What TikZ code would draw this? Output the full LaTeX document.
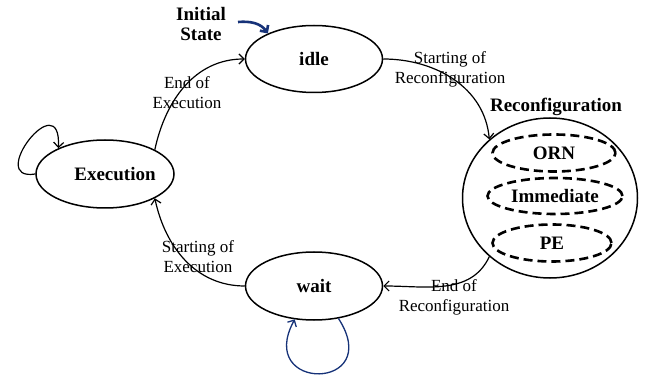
\documentclass[tikz,border=0pt]{standalone}
\usepackage{fontspec}
\setmainfont{Liberation Serif}
\usetikzlibrary{shapes.geometric,arrows.meta}
\definecolor{navy}{RGB}{22,50,120}
\tikzset{
  statebox/.style={draw,ellipse,line width=1.5pt,inner sep=0pt,
    font=\fontsize{19}{22}\selectfont\bfseries},
  modebox/.style={draw,ellipse,line width=2.6pt,dash pattern=on 9pt off 5pt,
    inner sep=0pt,font=\fontsize{19}{22}\selectfont\bfseries},
  edgelabel/.style={align=center,font=\fontsize{17}{20}\selectfont},
  trans/.style={line width=1.2pt,-{Straight Barb[length=5pt,width=10pt]}},
  navytrans/.style={navy,line width=1.3pt,-{Straight Barb[length=5pt,width=10pt]}}
}
\begin{document}
\begin{tikzpicture}[x=1pt,y=1pt]
\useasboundingbox (0,0) rectangle (651,378);
% states
\node (idle) [statebox,minimum width=137pt,minimum height=67pt] at (314,319) {idle};
\node (exec) [statebox,minimum width=138pt,minimum height=68pt,
  label={[xshift=10pt,font=\fontsize{19}{22}\selectfont\bfseries]center:Execution}] at (105,204) {};
\node (wait) [statebox,minimum width=137pt,minimum height=68pt] at (314,92) {wait};
\node (reconf) [statebox,minimum width=175pt,minimum height=160pt] at (550,180) {};
\node (reconftitle) [font=\fontsize{19}{22}\selectfont\bfseries] at (556,271) {Reconfiguration};
% modes of reconfiguration
\node (orn) [modebox,minimum width=123pt,minimum height=37pt] at (554,225) {ORN};
\node (imm) [modebox,minimum width=135pt,minimum height=36pt] at (555,182) {Immediate};
\node (pe) [modebox,minimum width=119pt,minimum height=37pt] at (552,135) {PE};
% initial state
\node (inittext) [align=center,font=\fontsize{19}{20}\selectfont\bfseries] at (201,354) {Initial\\State};
\coordinate (init) at (238,356);
\draw [navy,line width=2.6pt,-{Straight Barb[length=5pt,width=10pt]}] (init) to[out=5,in=125] (idle.151);
% transitions
\draw [trans] (exec.26) to[out=78,in=180] (idle.west);
\draw [trans] (idle.east) to[out=0,in=95] (reconf.136);
\draw [trans] (reconf.224) to[out=245,in=0] (wait.east);
\draw [trans] (wait.west) to[out=180,in=282] (exec.334);
\draw [trans] (exec.west) .. controls +(-50,-8) and +(3,65) .. (exec.151);
\draw [navytrans] (wait.307) .. controls +(47,-73) and +(-40,-73) .. (wait.240);
% labels
\node (l1) [edgelabel] at (187,285) {End of\\Execution};
\node (l2) [edgelabel] at (450,309) {Starting of\\Reconfiguration};
\node (l3) [edgelabel] at (454,81) {End of\\Reconfiguration};
\node (l4) [edgelabel] at (198,121) {Starting of\\Execution};
\end{tikzpicture}
\end{document}
